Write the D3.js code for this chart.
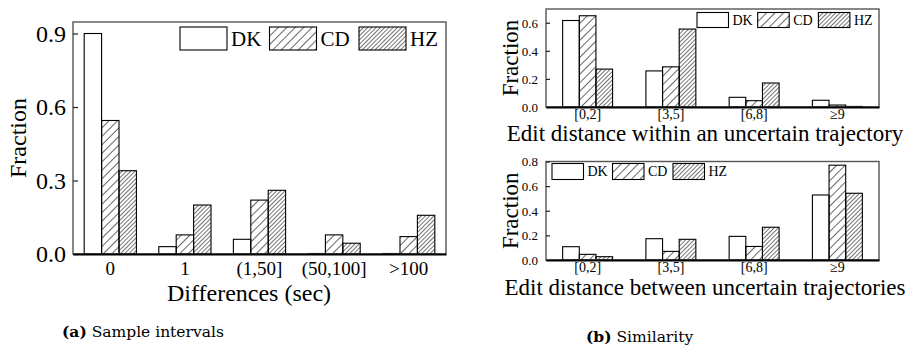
<!DOCTYPE html>
<html>
<head>
<meta charset="utf-8">
<script src="https://cdn.jsdelivr.net/npm/d3@7"></script>
<style>
  body { margin: 0; background: #fff; }
  svg { display: block; }
  svg text { font-family: "Liberation Serif", Tinos, "Times New Roman", Times, serif; }
  svg text.caption { font-family: "DejaVu Serif", serif; }
</style>
</head>
<body>
<svg id="chart" width="905" height="346"></svg>
<script>
// series names (legend)
const series = ["DK", "CD", "HZ"];

// (a) sample intervals
const intervalCats = ["0", "1", "(1,50]", "(50,100]", ">100"];
const intervalDK = [0.90, 0.030, 0.060, 0.002, 0.002];
const intervalCD = [0.545, 0.078, 0.220, 0.078, 0.071];
const intervalHZ = [0.340, 0.200, 0.260, 0.044, 0.158];
const intervalTicks = [0, 0.3, 0.6, 0.9];

// (b) edit distance within an uncertain trajectory
const editCats = ["[0,2]", "[3,5]", "[6,8]", "\u22659"];
const withinDK = [0.616, 0.257, 0.069, 0.048];
const withinCD = [0.650, 0.286, 0.045, 0.014];
const withinHZ = [0.270, 0.555, 0.171, 0.004];
const withinTicks = [0, 0.2, 0.4, 0.6];

// (b) edit distance between uncertain trajectories
const betweenDK = [0.108, 0.173, 0.192, 0.528];
const betweenCD = [0.046, 0.070, 0.110, 0.770];
const betweenHZ = [0.027, 0.168, 0.266, 0.542];
const betweenTicks = [0, 0.2, 0.4, 0.6, 0.8];

const svg = d3.select("#chart");

// hatch patterns
const defs = svg.append("defs");
const hatch = (id, gap, w) => {
  defs.append("pattern")
    .attr("id", id)
    .attr("patternUnits", "userSpaceOnUse")
    .attr("width", gap).attr("height", gap)
    .attr("patternTransform", "rotate(45)")
    .append("line")
      .attr("x1", 0).attr("y1", 0).attr("x2", 0).attr("y2", gap)
      .attr("stroke", "#000").attr("stroke-width", w);
};
hatch("hatchCD", 6, 1.2);
hatch("hatchHZ", 3, 1.1);
const fills = ["#fff", "url(#hatchCD)", "url(#hatchHZ)"];

const drawPanel = (opt) => {
  const {left, top, right, bottom, cats, values, ymax, ticks, fmt} = opt;
  const g = svg.append("g");

  const x = d3.scaleBand().domain(cats).range([left, right]).padding(0);
  const inner = d3.scaleBand().domain(series)
    .range([x.bandwidth() * opt.side, x.bandwidth() * (1 - opt.side)]);
  const y = d3.scaleLinear().domain([0, ymax]).range([bottom, top]);

  // bars
  series.forEach((s, si) => {
    g.selectAll(null)
      .data(values[si].map((v, i) => ({cat: cats[i], v})))
      .enter().append("rect")
        .attr("x", d => x(d.cat) + inner(s))
        .attr("y", d => y(d.v))
        .attr("width", inner.bandwidth())
        .attr("height", d => bottom - y(d.v))
        .attr("fill", fills[si])
        .attr("stroke", "#000")
        .attr("stroke-width", 1.1);
  });

  // frame
  g.append("rect")
    .attr("x", left).attr("y", top)
    .attr("width", right - left).attr("height", bottom - top)
    .attr("fill", "none").attr("stroke", "#555").attr("stroke-width", 1.4);

  // y axis, ticks pointing inward
  const ya = g.append("g")
    .attr("transform", `translate(${left},0)`)
    .call(d3.axisRight(y).tickValues(ticks).tickFormat(d3.format(fmt)).tickSize(opt.tick).tickPadding(0));
  ya.select(".domain").remove();
  ya.selectAll("line").attr("stroke", "#222").attr("stroke-width", 1.2);
  ya.selectAll("text")
    .attr("x", -opt.ylabGap)
    .attr("text-anchor", "end")
    .attr("dy", "0.33em")
    .attr("font-size", opt.ytickSize)
    .attr("fill", "#000");

  // x axis
  const xa = g.append("g")
    .attr("transform", `translate(0,${bottom})`)
    .call(d3.axisBottom(x).tickSize(0).tickPadding(opt.xtickPad));
  xa.select(".domain").attr("stroke", "#000").attr("stroke-width", 1.8);
  xa.selectAll("text")
    .attr("font-size", opt.xtickSize)
    .attr("fill", "#000");

  // axis titles
  g.append("text")
    .attr("transform", `translate(${opt.ytitleX},${(top + bottom) / 2}) rotate(-90)`)
    .attr("text-anchor", "middle")
    .attr("dy", "0.35em")
    .attr("font-size", opt.titleSize)
    .text("Fraction");
  g.append("text")
    .attr("x", opt.xtitleX).attr("y", opt.xtitleY)
    .attr("text-anchor", "middle")
    .attr("font-size", opt.titleSize)
    .text(opt.xtitle);

  // legend
  const lg = g.append("g").attr("transform", `translate(${opt.legX},${opt.legY})`);
  series.forEach((s, si) => {
    const item = lg.append("g").attr("transform", `translate(${si * opt.legStep},0)`);
    item.append("rect")
      .attr("width", opt.legW).attr("height", opt.legH)
      .attr("fill", fills[si]).attr("stroke", "#000").attr("stroke-width", 1.1);
    item.append("text")
      .attr("x", opt.legW + 4).attr("y", opt.legH / 2)
      .attr("dy", "0.35em")
      .attr("font-size", opt.legSize)
      .text(s);
  });
};

drawPanel({
  left: 73, top: 22, right: 446, bottom: 254,
  cats: intervalCats, values: [intervalDK, intervalCD, intervalHZ],
  ymax: 0.947, ticks: intervalTicks, fmt: ".1f", side: 0.15,
  tick: 5, ylabGap: 7, ytickSize: 24, xtickSize: 19, xtickPad: 8,
  titleSize: 24, ytitleX: 18, xtitle: "Differences (sec)", xtitleX: 249, xtitleY: 301,
  legX: 180, legY: 27, legW: 47, legH: 23, legStep: 89.5, legSize: 21
});

drawPanel({
  left: 546, top: 9, right: 879, bottom: 107,
  cats: editCats, values: [withinDK, withinCD, withinHZ],
  ymax: 0.698, ticks: withinTicks, fmt: ".1f", side: 0.2,
  tick: 4, ylabGap: 8, ytickSize: 13, xtickSize: 14, xtickPad: 2,
  titleSize: 23, ytitleX: 510, xtitle: "Edit distance within an uncertain trajectory", xtitleX: 705, xtitleY: 141,
  legX: 697, legY: 12.5, legW: 31.5, legH: 15, legStep: 60.7, legSize: 14
});

drawPanel({
  left: 546, top: 161.5, right: 879, bottom: 260,
  cats: editCats, values: [betweenDK, betweenCD, betweenHZ],
  ymax: 0.8, ticks: betweenTicks, fmt: ".1f", side: 0.2,
  tick: 4, ylabGap: 8, ytickSize: 13, xtickSize: 14, xtickPad: 2,
  titleSize: 23, ytitleX: 510, xtitle: "Edit distance between uncertain trajectories", xtitleX: 705, xtitleY: 295,
  legX: 552, legY: 163.5, legW: 31.5, legH: 16, legStep: 60.5, legSize: 14
});

// sub-captions
const cap = (x, y, tag, label) => {
  const t = svg.append("text")
    .attr("class", "caption")
    .attr("x", x).attr("y", y)
    .attr("font-size", 15.5);
  t.append("tspan").attr("font-weight", "bold").text(tag);
  t.append("tspan").text(" " + label);
};
cap(62, 337, "(a)", "Sample intervals");
cap(586, 342, "(b)", "Similarity");
</script>
</body>
</html>
